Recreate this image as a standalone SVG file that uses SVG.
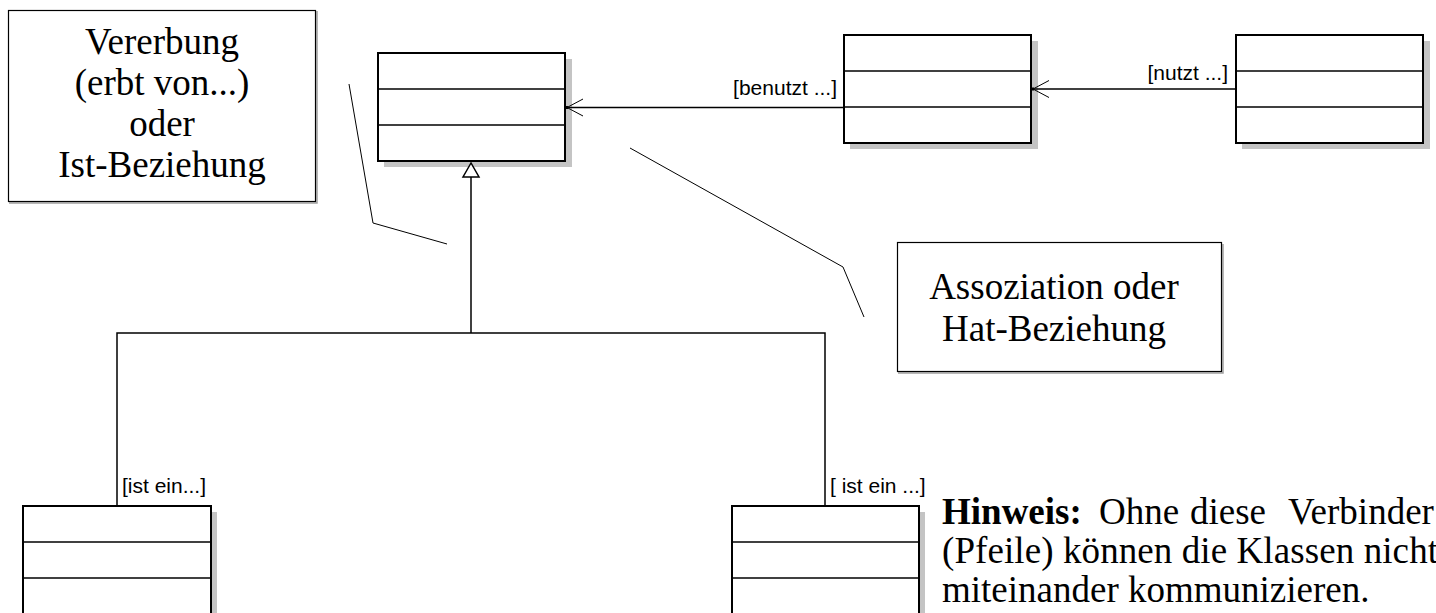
<svg xmlns="http://www.w3.org/2000/svg" width="1436" height="613" viewBox="0 0 1436 613">
<style>
.shadow{fill:#c4c4c4;stroke:none}
.cls{fill:#fff;stroke:#000;stroke-width:2}
.div{stroke:#000;stroke-width:1.5}
.note{fill:#fff;stroke:#000;stroke-width:1.2}
.nshadow{fill:none;stroke:#a0a0a0;stroke-width:1.5}
.conn{fill:none;stroke:#000;stroke-width:1.5}
.thin{fill:none;stroke:#000;stroke-width:1}
.serif{font-family:"Liberation Serif","Times New Roman",serif;font-size:37px;fill:#000}
.lbl{font-family:"Liberation Sans",Arial,sans-serif;font-size:21px;fill:#000}
</style>
<rect width="1436" height="613" fill="#fff"/>

<g id="note-vererbung">
<polyline class="nshadow" points="317,11 317,203 9,203"/>
<rect class="note" x="8.5" y="10.5" width="307" height="191"/>
<text class="serif" text-anchor="middle" x="162" y="54">Vererbung</text>
<text class="serif" text-anchor="middle" x="162" y="95">(erbt von...)</text>
<text class="serif" text-anchor="middle" x="162" y="136">oder</text>
<text class="serif" text-anchor="middle" x="162" y="177">Ist-Beziehung</text>
</g>

<g id="note-assoziation">
<polyline class="nshadow" points="1223,244 1223,373 898,373"/>
<rect class="note" x="897.5" y="242.5" width="324" height="129"/>
<text class="serif" text-anchor="middle" x="1054" y="299">Assoziation oder</text>
<text class="serif" text-anchor="middle" x="1054" y="341">Hat-Beziehung</text>
</g>

<g id="class-top">
<rect class="shadow" x="384" y="59" width="188" height="108"/>
<rect class="cls" x="378" y="53" width="187" height="108"/>
<line class="div" x1="378" y1="89" x2="565" y2="89"/>
<line class="div" x1="378" y1="125" x2="565" y2="125"/>
</g>

<g id="class-middle">
<rect class="shadow" x="850" y="41" width="188" height="108"/>
<rect class="cls" x="844" y="35" width="187" height="108"/>
<line class="div" x1="844" y1="71" x2="1031" y2="71"/>
<line class="div" x1="844" y1="107" x2="1031" y2="107"/>
</g>

<g id="class-right">
<rect class="shadow" x="1242" y="41" width="188" height="108"/>
<rect class="cls" x="1236" y="35" width="187" height="108"/>
<line class="div" x1="1236" y1="71" x2="1423" y2="71"/>
<line class="div" x1="1236" y1="107" x2="1423" y2="107"/>
</g>

<g id="class-bottom-left">
<rect class="shadow" x="29" y="512" width="188" height="120"/>
<rect class="cls" x="23" y="506" width="188" height="120"/>
<line class="div" x1="23" y1="542" x2="211" y2="542"/>
<line class="div" x1="23" y1="578" x2="211" y2="578"/>
</g>

<g id="class-bottom-right">
<rect class="shadow" x="738" y="512" width="187" height="120"/>
<rect class="cls" x="732" y="506" width="187" height="120"/>
<line class="div" x1="732" y1="542" x2="919" y2="542"/>
<line class="div" x1="732" y1="578" x2="919" y2="578"/>
</g>

<g id="connectors">
<line class="conn" x1="567" y1="107.5" x2="844" y2="107.5"/>
<polyline class="thin" points="583,99 567,107.5 583,116"/>
<rect x="565" y="106" width="3" height="3" fill="#000"/>
<text class="lbl" text-anchor="end" x="837" y="95">[benutzt ...]</text>
<line class="conn" x1="1033" y1="89" x2="1236" y2="89"/>
<polyline class="thin" points="1049,80.5 1033,89 1049,97.5"/>
<rect x="1031" y="87.5" width="3" height="3" fill="#000"/>
<text class="lbl" text-anchor="end" x="1228" y="80">[nutzt ...]</text>
<polygon points="471,163 463,177 479,177" fill="#fff" stroke="#000" stroke-width="1.5"/>
<polyline class="conn" points="471,177 471,333"/>
<polyline class="conn" points="117,506 117,333 825,333 825,506"/>
<text class="lbl" x="122" y="493">[ist ein...]</text>
<text class="lbl" x="830" y="493">[ ist ein ...]</text>
<polyline class="thin" points="349,84 373,223 447,244"/>
<polyline class="thin" points="630,148 843,267 864,317"/>
</g>

<g id="hinweis">
<text class="serif" x="942" y="524" font-weight="bold">Hinweis:</text>
<text class="serif" x="1099" y="524">Ohne</text>
<text class="serif" x="1190" y="524">diese</text>
<text class="serif" x="1288" y="524">Verbinder</text>
<text class="serif" x="942" y="563" textLength="496" lengthAdjust="spacing">(Pfeile) können die Klassen nicht</text>
<text class="serif" x="942" y="602">miteinander kommunizieren.</text>
</g>
</svg>
